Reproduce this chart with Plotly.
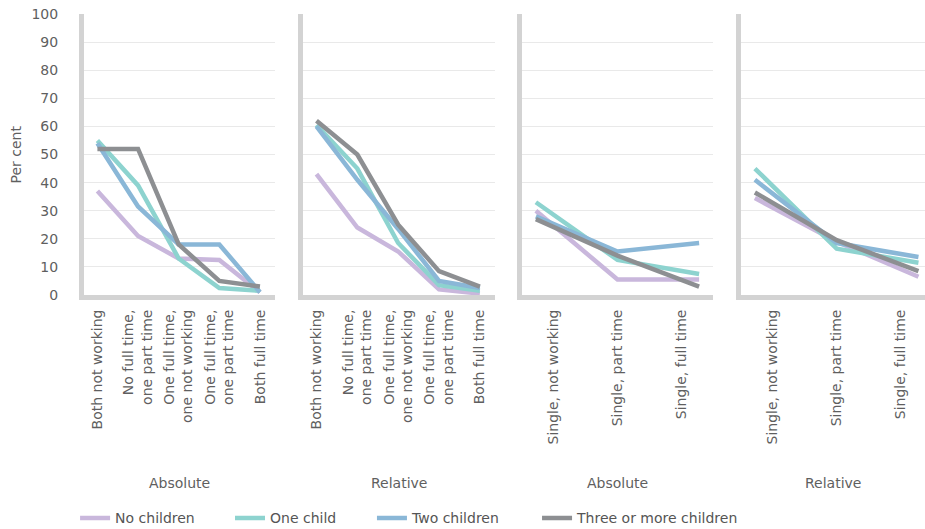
import plotly.graph_objects as go

# Categories
couple_cats = ["Both not working", "No full time,<br>one part time", "One full time,<br>one not working",
               "One full time,<br>one part time", "Both full time"]
single_cats = ["Single, not working", "Single, part time", "Single, full time"]
series_names = ["No children", "One child", "Two children", "Three or more children"]
panel_titles = ["Absolute", "Relative", "Absolute", "Relative"]

# Couples, absolute
couple_abs_none = [37, 21, 13, 12.5, 1]
couple_abs_one = [55, 39, 13, 2.5, 1.5]
couple_abs_two = [54, 31.5, 18, 18, 1]
couple_abs_three = [52, 52, 18, 5, 3]
# Couples, relative
couple_rel_none = [43, 24, 15.5, 2, 0.5]
couple_rel_one = [60.5, 45, 18.5, 3.5, 1.5]
couple_rel_two = [60, 41, 23.5, 5, 2.5]
couple_rel_three = [62, 50, 25, 8.5, 3]
# Singles, absolute
single_abs_none = [30, 5.5, 5.5]
single_abs_one = [33, 12.5, 7.5]
single_abs_two = [28, 15.5, 18.5]
single_abs_three = [27, 14, 3]
# Singles, relative
single_rel_none = [34.5, 19, 6.5]
single_rel_one = [45, 16.5, 11.5]
single_rel_two = [41, 18.5, 13.5]
single_rel_three = [36.5, 19.5, 8.5]

colors = ["#c9b7dc", "#8dd3cf", "#8ab7d7", "#8d8f92"]
FONT = "DejaVu Sans"
TXT = "#5f5f5f"

panels = [
    (couple_cats, [couple_abs_none, couple_abs_one, couple_abs_two, couple_abs_three]),
    (couple_cats, [couple_rel_none, couple_rel_one, couple_rel_two, couple_rel_three]),
    (single_cats, [single_abs_none, single_abs_one, single_abs_two, single_abs_three]),
    (single_cats, [single_rel_none, single_rel_one, single_rel_two, single_rel_three]),
]

domains = [[0.0, 0.2271], [0.2604, 0.4887], [0.5208, 0.7479], [0.7812, 1.0]]
ranges = [[-0.33, 4.37], [-0.33, 4.37], [-0.17, 2.17], [-0.17, 2.08]]
legend_x = [-0.0106, 0.1736, 0.3424, 0.5387]
legend_keys = ["legend", "legend2", "legend3", "legend4"]

fig = go.Figure()
for p, (cats, vals) in enumerate(panels):
    xs = list(range(len(cats)))
    for s, v in enumerate(vals):
        fig.add_trace(go.Scatter(
            x=xs, y=v, mode="lines", name=series_names[s],
            line=dict(color=colors[s], width=4.5),
            showlegend=(p == 0), legendgroup=series_names[s], legend=legend_keys[s],
            xaxis="x" if p == 0 else f"x{p+1}",
            yaxis="y" if p == 0 else f"y{p+1}",
        ))

layout = dict(
    width=925, height=529,
    margin=dict(l=84, r=0, t=14, b=234, autoexpand=False),
    paper_bgcolor="white", plot_bgcolor="white",
    font=dict(family=FONT, size=14, color=TXT),
    annotations=[dict(text="Per cent", xref="paper", yref="paper", x=-0.082, y=0.5,
                      xanchor="center", yanchor="middle", textangle=-90, showarrow=False,
                      font=dict(family=FONT, size=14, color=TXT))],
)
for s, key in enumerate(legend_keys):
    layout[key] = dict(orientation="h", x=legend_x[s], xanchor="left", y=-0.795, yanchor="middle",
                       font=dict(family=FONT, size=14, color="#555"), itemwidth=30,
                       bgcolor="rgba(0,0,0,0)")

for p, (cats, vals) in enumerate(panels):
    n = len(cats)
    if n == 5:
        tv = list(range(n))
    else:
        tv = [0.22, 1, 1.78]
    xa = dict(domain=domains[p], range=ranges[p], tickmode="array", tickvals=tv, ticktext=cats,
              tickangle=-90, showgrid=False, zeroline=False, showline=True, linecolor="#d3d3d3",
              linewidth=5, ticks="", ticklabelstandoff=4, ticklabeloverflow="allow",
              tickfont=dict(family=FONT, size=14, color=TXT),
              anchor="y" if p == 0 else f"y{p+1}")
    ya = dict(range=[0, 100], dtick=10, showgrid=True, gridcolor="#e9e9e9", gridwidth=1,
              zeroline=False, showline=True, linecolor="#d3d3d3", linewidth=5, ticks="",
              showticklabels=(p == 0), ticklabelstandoff=18, ticklabeloverflow="allow",
              tickfont=dict(family=FONT, size=14, color=TXT),
              anchor="x" if p == 0 else f"x{p+1}")
    key = "" if p == 0 else str(p + 1)
    layout[f"xaxis{key}"] = xa
    layout[f"yaxis{key}"] = ya
    layout["annotations"].append(dict(
        text=panel_titles[p], xref="paper", yref="paper",
        x=(domains[p][0] + domains[p][1]) / 2, y=-0.670, xanchor="center", yanchor="middle",
        showarrow=False, font=dict(family=FONT, size=14, color=TXT)))

fig.update_layout(**layout)
fig.write_html("out.html", config={"displayModeBar": False},
               post_script="document.body.style.margin='0';")
